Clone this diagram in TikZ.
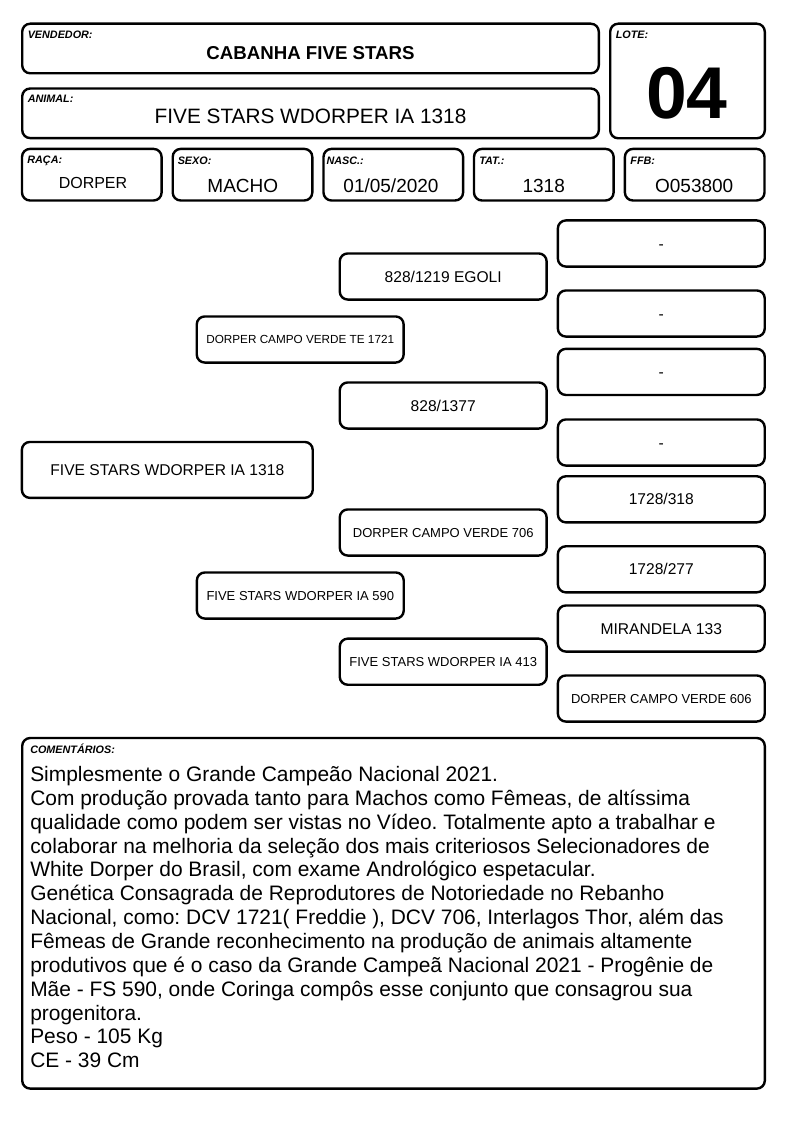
\documentclass[tikz,border=0pt]{standalone}
\usepackage{fontspec}
\setmainfont{Liberation Sans}
\usepackage{tikz}
\usetikzlibrary{calc}
\frenchspacing

\begin{document}
\begin{tikzpicture}[x=0.75pt, y=-0.75pt,
    every node/.style={inner sep=0pt},
    cell/.style 2 args={draw, line width=1.8pt, rounded corners=6pt,
      minimum width=#1*0.75pt-1.8pt, minimum height=#2*0.75pt-1.8pt},
    lbl/.style={anchor=base west, font=\fontsize{8.1}{9}\selectfont\bfseries\itshape},
    val/.style={anchor=base, font=\fontsize{14.25}{16}\selectfont},
    ped/.style={cell={209.3}{48.5}, font=\fontsize{11.7}{14}\selectfont,
      text height=8.4pt, text depth=0pt},
    pedsmall/.style={ped, font=\fontsize{9.75}{12}\selectfont, text height=7pt},
    pedtiny/.style={ped, font=\fontsize{8.8}{11}\selectfont, text height=6.3pt}]
  \useasboundingbox (0,0) rectangle (794,1123);

  % cabecalho
  \node[cell={579}{52}] (vend) at (310.5,48.5) {};
  \node[cell={157}{117}] (lote) at (687.5,81) {};
  \node[cell={579}{52}] (anim) at (310.5,113.3) {};
  \node[cell={142}{54}] (raca) at (91.8,174.7) {};
  \node[cell={142}{54}] (sexo) at (242.5,174.7) {};
  \node[cell={142}{54}] (nasc) at (393.3,174.7) {};
  \node[cell={142}{54}] (tat) at (543.8,174.7) {};
  \node[cell={142}{54}] (ffb) at (694.7,174.7) {};

  \node[lbl] (vendlbl) at ($(vend.north west)+(6.5,16.5)$) {VENDEDOR:};
  \node[lbl] (lotelbl) at ($(lote.north west)+(6.5,16.5)$) {LOTE:};
  \node[lbl] (animlbl) at ($(anim.north west)+(6.5,15.5)$) {ANIMAL:};
  \node[lbl] (racalbl) at ($(raca.north west)+(6.3,15.5)$) {RAÇA:};
  \node[lbl] (sexolbl) at ($(sexo.north west)+(6,17)$) {SEXO:};
  \node[lbl] (nasclbl) at ($(nasc.north west)+(4,17)$) {NASC.:};
  \node[lbl] (tatlbl) at ($(tat.north west)+(6.3,17)$) {TAT.:};
  \node[lbl] (ffblbl) at ($(ffb.north west)+(6.5,17)$) {FFB:};

  \node[val, font=\fontsize{14}{16}\selectfont\bfseries] (vendval) at (310.5,60) {CABANHA FIVE STARS};
  \node[val, font=\fontsize{15.6}{18}\selectfont] (animval) at (310.5,123.3) {FIVE STARS WDORPER IA 1318};
  \node[val, font=\fontsize{55}{60}\selectfont\bfseries] (loteval) at (687,118.3) {04};
  \node[val, font=\fontsize{12}{14}\selectfont] (racaval) at (93,188.3) {DORPER};
  \node[val] (sexoval) at (242.8,192.3) {MACHO};
  \node[val] (nascval) at (391,192.3) {01/05/2020};
  \node[val] (tatval) at (543.7,192.7) {1318};
  \node[val] (ffbval) at (694.2,192.7) {O053800};

  % genealogia
  \node[ped, cell={293.3}{58.3}] (p1318) at (167.3,469.9) {FIVE STARS WDORPER IA 1318};
  \node[pedtiny] (s1721) at (300.2,339.5) {DORPER CAMPO VERDE TE 1721};
  \node[pedsmall] (d590) at (300.3,595.5) {FIVE STARS WDORPER IA 590};

  \node[ped] (egoli) at (443.2,276.5) {828/1219 EGOLI};
  \node[ped] (m1377) at (443.2,405.5) {828/1377};
  \node[pedsmall] (dcv706) at (443.2,532.5) {DORPER CAMPO VERDE 706};
  \node[pedsmall] (ia413) at (443.2,661.7) {FIVE STARS WDORPER IA 413};

  \node[ped] (r1) at (661.3,243.5) {-};
  \node[ped] (r2) at (661.3,313.5) {-};
  \node[ped] (r3) at (661.3,371.9) {-};
  \node[ped] (r4) at (661.3,442.5) {-};
  \node[ped] (r318) at (661.3,499.3) {1728/318};
  \node[ped] (r277) at (661.3,569.3) {1728/277};
  \node[ped] (mir) at (661.3,628.5) {MIRANDELA 133};
  \node[pedsmall] (dcv606) at (661.3,698.5) {DORPER CAMPO VERDE 606};

  % comentarios
  \node[cell={745}{353}] (coment) at (393.5,913.3) {};
  \node[lbl] (comentlbl) at ($(coment.north west)+(9,16.6)$) {COMENTÁRIOS:};
  \node[anchor=north west, align=left, font=\fontsize{15.7}{17.9}\selectfont]
    (comenttxt) at (30,766) {Simplesmente o Grande Campeão Nacional 2021.\\
    Com produção provada tanto para Machos como Fêmeas, de altíssima\\
    qualidade como podem ser vistas no Vídeo. Totalmente apto a trabalhar e\\
    colaborar na melhoria da seleção dos mais criteriosos Selecionadores de\\
    White Dorper do Brasil, com exame Andrológico espetacular.\\
    Genética Consagrada de Reprodutores de Notoriedade no Rebanho\\
    Nacional, como: DCV 1721( Freddie ), DCV 706, Interlagos Thor, além das\\
    Fêmeas de Grande reconhecimento na produção de animais altamente\\
    produtivos que é o caso da Grande Campeã Nacional 2021 - Progênie de\\
    Mãe - FS 590, onde Coringa compôs esse conjunto que consagrou sua\\
    progenitora.\\
    Peso - 105 Kg\\
    CE - 39 Cm};
\end{tikzpicture}
\end{document}
